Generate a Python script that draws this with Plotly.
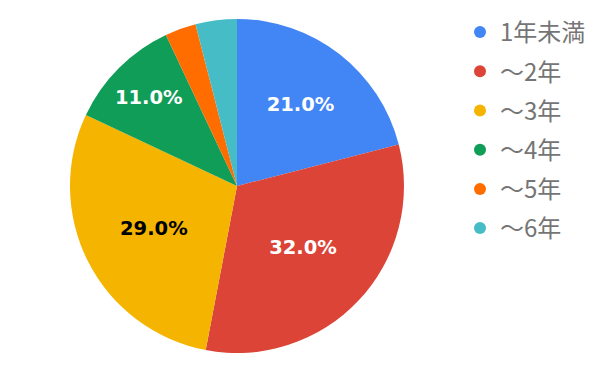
import plotly.graph_objects as go

categories = ["1年未満", "〜2年", "〜3年", "〜4年", "〜5年", "〜6年"]
values = [21, 32, 29, 11, 3, 4]
colors = ["#4285F4", "#DB4437", "#F4B400", "#0F9D58", "#FF6D00", "#46BDC6"]
label_colors = ["white", "white", "black", "white", "white", "white"]
min_label = 5

total = sum(values)
texts = [f"{v / total * 100:.1f}%" if v >= min_label else "" for v in values]

fig = go.Figure()
fig.add_trace(go.Pie(
    labels=categories,
    values=values,
    sort=False,
    direction="clockwise",
    rotation=0,
    marker=dict(colors=colors, line=dict(width=0)),
    text=texts,
    textinfo="text",
    textposition="inside",
    insidetextorientation="horizontal",
    insidetextfont=dict(color=label_colors, size=19.5, family="DejaVu Sans", weight="bold"),
    domain=dict(x=[62 / 600, 396 / 600], y=[26 / 371, 360 / 371]),
    showlegend=False,
    hoverinfo="label+percent",
))

for i, (c, col) in enumerate(zip(categories, colors)):
    fig.add_trace(go.Scatter(
        x=[None], y=[None], mode="markers", name=c,
        marker=dict(color=col, size=12, symbol="circle"),
        legendgroup=f"g{i}", showlegend=True,
    ))

fig.update_layout(
    width=600, height=371,
    margin=dict(l=0, r=0, t=0, b=0),
    paper_bgcolor="white", plot_bgcolor="white",
    xaxis=dict(visible=False), yaxis=dict(visible=False),
    legend=dict(
        x=452 / 600, y=1 - 2 / 371, xanchor="left", yanchor="top",
        font=dict(size=24, color="#757575", family="Noto Sans CJK JP"),
        tracegroupgap=5, bgcolor="rgba(0,0,0,0)",
    ),
)

fig.write_html("out.html")
